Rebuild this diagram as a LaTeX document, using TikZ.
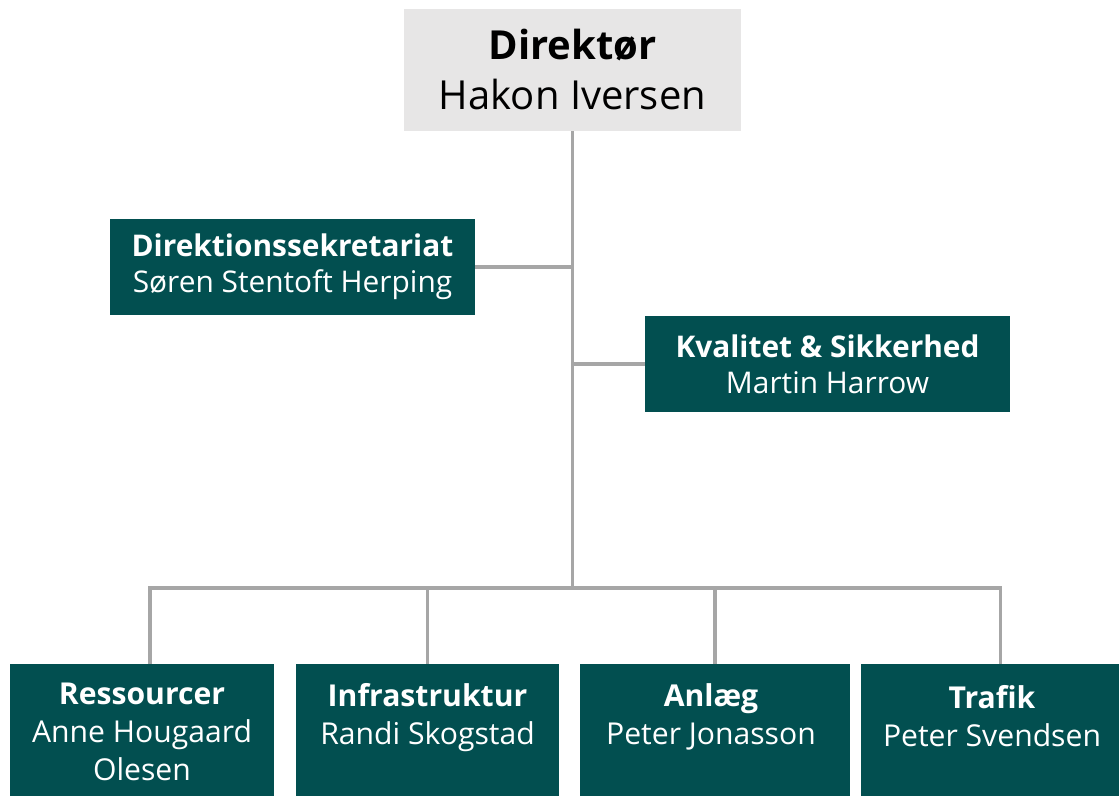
\documentclass[tikz,border=0pt]{standalone}
\usepackage{fontspec}
\setmainfont{Open Sans}
\definecolor{orgteal}{RGB}{2,79,80}
\definecolor{orggray}{RGB}{166,166,166}
\definecolor{dirgray}{RGB}{231,230,230}

\begin{document}
\begin{tikzpicture}[x=0.75pt,y=0.75pt,yscale=-1,xscale=1,
  link/.style={draw=orggray,line width=2.4pt},
  dirbox/.style={fill=dirgray,inner sep=0pt,minimum width=252.75pt,minimum height=91.5pt,align=center,font=\fontsize{30}{37.5}\selectfont},
  staffbox/.style={fill=orgteal,text=white,inner sep=0pt,minimum width=273.75pt,minimum height=72pt,align=center,font=\fontsize{22.4}{27}\selectfont},
  unitbox/.style={fill=orgteal,inner sep=0pt,minimum height=124.5pt},
  unittext/.style={text=white,inner sep=0pt,anchor=north,align=center,font=\fontsize{22.6}{28.5}\selectfont}]
%set diagram to 1119 x 795
\clip (0,0) rectangle (1119,795);

% Director
\node[dirbox] (dir) at (572.5,70) {\textbf{Direktør}\\Hakon Iversen};
% Staff boxes
\node[staffbox] (sek) at (292.5,267) {\textbf{Direktionssekretariat}\\Søren Stentoft Herping};
\node[staffbox] (kval) at (827.5,364) {\textbf{Kvalitet \& Sikkerhed}\\Martin Harrow};

% Unit boxes
\node[unitbox,minimum width=198pt] (res) at (142,747) {};
\node[unitbox,minimum width=197.25pt] (infra) at (427.5,747) {};
\node[unitbox,minimum width=202.5pt] (anl) at (715,747) {};
\node[unitbox,minimum width=209.25pt] (traf) at (1000.5,747) {};

% Text Node
\node[unittext] (resT) at (142,683) {\textbf{Ressourcer}\\Anne Hougaard\\Olesen};
% Text Node
\node[unittext] (infraT) at (427.5,683) {\textbf{Infrastruktur}\\Randi Skogstad};
% Text Node
\node[unittext] (anlT) at (711,683) {\textbf{Anlæg}\\Peter Jonasson};
% Text Node
\node[unittext] (trafT) at (992,685) {\textbf{Trafik}\\Peter Svendsen};

% Lines
\coordinate (bus) at (dir.south |- 0,588);
\draw[link] (dir.south) -- (bus);
\draw[link] (sek.east) -- (sek.east -| dir.south);
\draw[link] (kval.west) -- (kval.west -| dir.south);
\draw[link] ([xshift=6pt]res.north) |- (traf.north |- bus) -- (traf.north);
\draw[link] (infra.north) -- (infra.north |- bus);
\draw[link] (anl.north) -- (anl.north |- bus);

\end{tikzpicture}
\end{document}
